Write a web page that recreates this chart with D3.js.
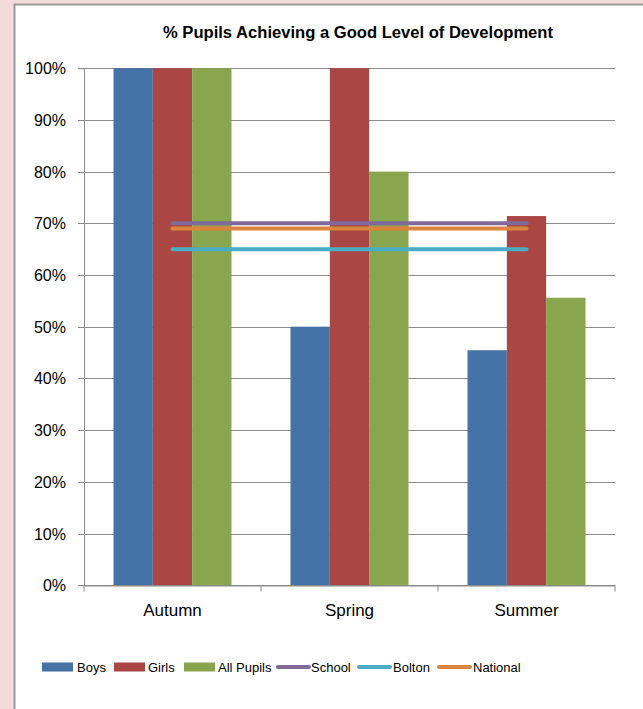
<!DOCTYPE html>
<html><head><meta charset="utf-8">
<script src="https://cdn.jsdelivr.net/npm/d3@7"></script>
<style>html,body{margin:0;padding:0;background:#F2DCDB;}svg{display:block;}</style>
</head><body>
<script>
const categories = ["Autumn", "Spring", "Summer"];
const boys = [100, 50, 45.45];
const girls = [100, 100, 71.4];
const allPupils = [100, 80, 55.6];
const school = [70, 70, 70];
const bolton = [65, 65, 65];
const national = [69, 69, 69];
const yTicks = [0,10,20,30,40,50,60,70,80,90,100];
const barSeries = [
  {name:"Boys", values:boys, color:"#4572A7"},
  {name:"Girls", values:girls, color:"#AA4643"},
  {name:"All Pupils", values:allPupils, color:"#89A54E"}
];
const lineSeries = [
  {name:"School", values:school, color:"#80699B"},
  {name:"Bolton", values:bolton, color:"#4BACC6"},
  {name:"National", values:national, color:"#DB843D"}
];

(function(){
const W = 643, H = 709;
const svg = d3.select("body").append("svg").attr("width", W).attr("height", H);
svg.append("rect").attr("x",0).attr("y",0).attr("width",W).attr("height",H).attr("fill","#F2DCDB");
svg.append("rect").attr("x",14.5).attr("y",4.5).attr("width",W+10).attr("height",H+10)
  .attr("fill","#fff").attr("stroke","#9A9A9A").attr("stroke-width",2);

const font = "'Liberation Sans', Arial, sans-serif";
svg.append("text").attr("x",358).attr("y",38).attr("text-anchor","middle")
  .attr("font-family",font).attr("font-weight","bold").attr("font-size",16)
  .attr("textLength",390).attr("lengthAdjust","spacingAndGlyphs")
  .attr("fill","#000").text("% Pupils Achieving a Good Level of Development");

const pl = 84, pr = 615, pt = 68.2, pb = 585.2;
const x = d3.scaleBand().domain(categories).range([pl, pr]).paddingInner(0).paddingOuter(0);
const x1 = d3.scaleBand().domain(barSeries.map(d=>d.name)).range([0, x.bandwidth()]).paddingInner(0).paddingOuter(0.75);
const y = d3.scaleLinear().domain([0,100]).range([pb, pt]);

svg.append("g").selectAll("line").data(yTicks).join("line")
  .attr("x1",pl).attr("x2",pr).attr("y1",d=>Math.round(y(d))+0.5).attr("y2",d=>Math.round(y(d))+0.5)
  .attr("stroke","#8C8C8C").attr("stroke-width",1);

const yAxis = d3.axisLeft(y).tickValues(yTicks).tickFormat(d=>d+"%").tickSize(6).tickPadding(12);
const gy = svg.append("g").attr("transform",`translate(${pl},0)`).call(yAxis);
gy.select(".domain").attr("stroke","#8C8C8C");
gy.selectAll(".tick line").attr("stroke","#8C8C8C");
gy.selectAll(".tick text").attr("font-family",font).attr("font-size",16).attr("fill","#000");
gy.selectAll(".tick").attr("transform",d=>`translate(0,${Math.round(y(d))+0.5})`);

const groups = svg.append("g").selectAll("g").data(categories).join("g")
  .attr("transform",d=>`translate(${x(d)},0)`);
barSeries.forEach(s=>{
  groups.append("rect")
    .attr("x",()=>x1(s.name))
    .attr("width",x1.bandwidth())
    .attr("y",(d,i)=>y(s.values[i]))
    .attr("height",(d,i)=>y(0)-y(s.values[i]))
    .attr("fill",s.color);
});

const xAxis = d3.axisBottom(x).tickSize(0).tickPadding(18);
const gx = svg.append("g").attr("transform",`translate(0,${Math.round(y(0))+0.5})`).call(xAxis);
gx.select(".domain").attr("stroke","#8C8C8C");
gx.selectAll(".tick text").attr("font-family",font).attr("font-size",17).attr("fill","#000");
const bounds = [pl, ...categories.map(c=>x(c)+x.bandwidth())];
gx.selectAll("line.sep").data(bounds).join("line").attr("class","sep")
  .attr("x1",d=>d).attr("x2",d=>d).attr("y1",0).attr("y2",6).attr("stroke","#8C8C8C");

const line = d3.line().x((d,i)=>x(categories[i])+x.bandwidth()/2).y(d=>y(d));
lineSeries.forEach(s=>{
  svg.append("path").datum(s.values).attr("d",line).attr("fill","none")
    .attr("stroke",s.color).attr("stroke-width",4).attr("stroke-linecap","round");
});

const legendY = 667;
const legendItems = [
  {s:barSeries[0], x:42, tx:77, type:"bar"},
  {s:barSeries[1], x:114, tx:148, type:"bar"},
  {s:barSeries[2], x:184, tx:218, type:"bar"},
  {s:lineSeries[0], x:277, tx:311, type:"line"},
  {s:lineSeries[1], x:358, tx:393, type:"line"},
  {s:lineSeries[2], x:438, tx:473, type:"line"}
];
const lg = svg.append("g");
legendItems.forEach(it=>{
  if(it.type==="bar"){
    lg.append("rect").attr("x",it.x).attr("y",legendY-4.5).attr("width",31).attr("height",9).attr("fill",it.s.color);
  } else {
    lg.append("line").attr("x1",it.x+1).attr("x2",it.x+32).attr("y1",legendY).attr("y2",legendY)
      .attr("stroke",it.s.color).attr("stroke-width",4).attr("stroke-linecap","round");
  }
  lg.append("text").attr("x",it.tx).attr("y",legendY+5).attr("font-family",font).attr("font-size",13)
    .attr("fill","#000").text(it.s.name);
});
})();
</script>
</body></html>
